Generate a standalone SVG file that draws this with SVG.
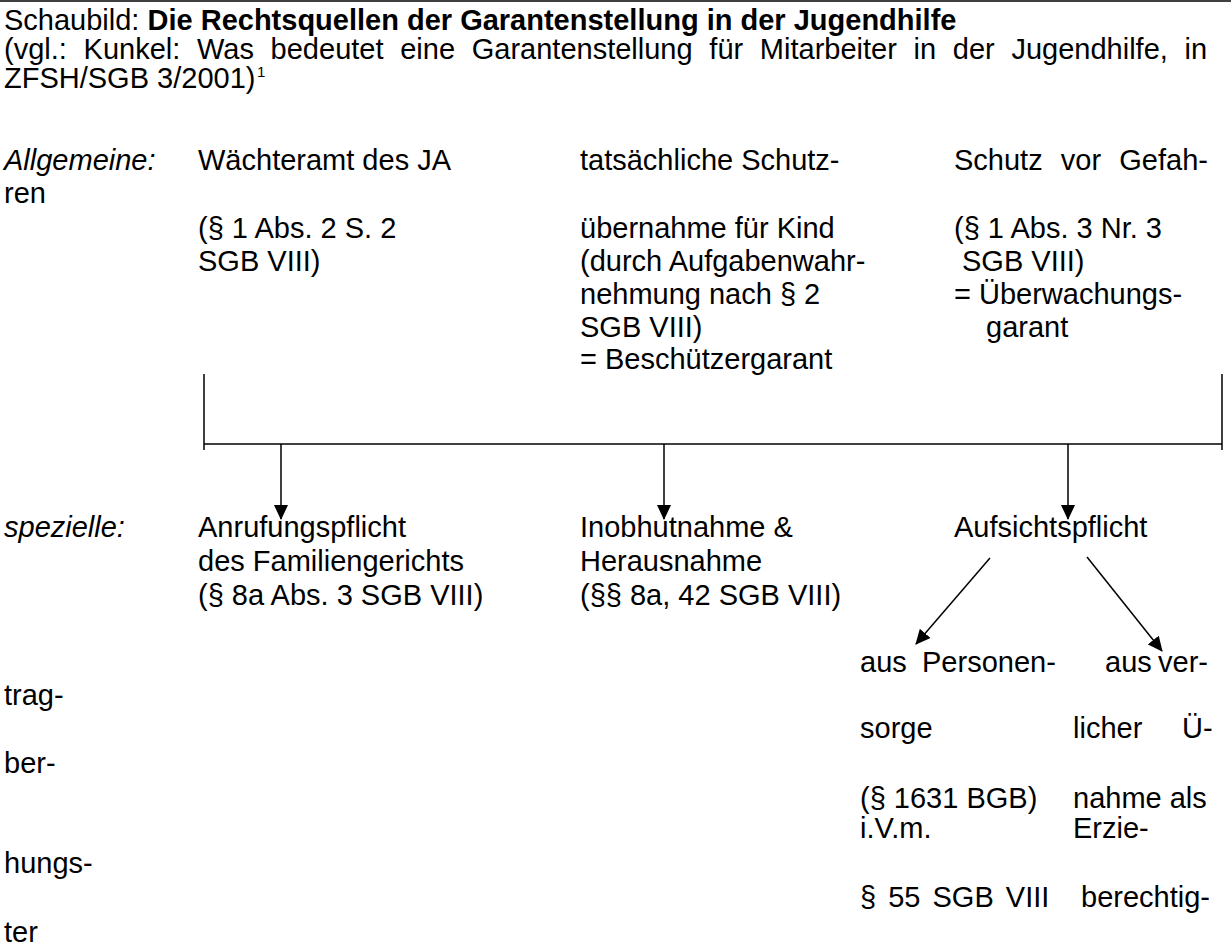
<svg xmlns="http://www.w3.org/2000/svg" width="1231" height="946" viewBox="0 0 1231 946">
<defs>
<style>
text { font-family: "Liberation Sans", Arial, Helvetica, sans-serif; font-size: 29px; fill: #000; }
.b { font-weight: bold; }
.i { font-style: italic; }
.sup { font-size: 15px; }
.ln { stroke: #000; stroke-width: 1.5; fill: none; }
.arr { stroke: #000; stroke-width: 1.5; fill: none; marker-end: url(#ah); }
</style>
<marker id="ah" viewBox="0 0 15 14" refX="14" refY="7" markerWidth="15" markerHeight="14" markerUnits="userSpaceOnUse" orient="auto">
<path d="M0,0 L15,7 L0,14 z" fill="#000"/>
</marker>
</defs>
<rect x="0" y="0" width="1231" height="946" fill="#fff"/>
<line class="ln" x1="0" y1="1" x2="1231" y2="1"/>

<g id="header">
<text x="4" y="30">Schaubild: <tspan class="b">Die Rechtsquellen der Garantenstellung in der Jugendhilfe</tspan></text>
<text x="4" y="59" word-spacing="8.65">(vgl.: Kunkel: Was bedeutet eine Garantenstellung für Mitarbeiter in der Jugendhilfe, in</text>
<text x="4" y="88">ZFSH/SGB 3/2001)</text>
<text class="sup" x="257" y="77">1</text>
</g>

<g id="label-allgemeine">
<text class="i" x="4" y="170">Allgemeine:</text>
<text x="4" y="203">ren</text>
</g>

<g id="node-waechteramt">
<text x="198" y="170">Wächteramt des JA</text>
<text x="198" y="238">(§ 1 Abs. 2 S. 2</text>
<text x="198" y="271">SGB VIII)</text>
</g>

<g id="node-schutzuebernahme">
<text x="580" y="170">tatsächliche Schutz-</text>
<text x="580" y="238">übernahme für Kind</text>
<text x="580" y="271">(durch Aufgabenwahr-</text>
<text x="580" y="304">nehmung nach § 2</text>
<text x="580" y="337">SGB VIII)</text>
<text x="580" y="369">= Beschützergarant</text>
</g>

<g id="node-schutz-gefahren">
<text x="954" y="170" word-spacing="10.1">Schutz vor Gefah-</text>
<text x="954" y="238">(§ 1 Abs. 3 Nr. 3</text>
<text x="962" y="271">SGB VIII)</text>
<text x="954" y="304">= Überwachungs-</text>
<text x="986" y="337">garant</text>
</g>

<g id="label-spezielle">
<text class="i" x="4" y="537">spezielle:</text>
</g>

<g id="node-anrufungspflicht">
<text x="198" y="537">Anrufungspflicht</text>
<text x="198" y="571">des Familiengerichts</text>
<text x="198" y="605">(§ 8a Abs. 3 SGB VIII)</text>
</g>

<g id="node-inobhutnahme">
<text x="580" y="537">Inobhutnahme &amp;</text>
<text x="580" y="571">Herausnahme</text>
<text x="580" y="605">(§§ 8a, 42 SGB VIII)</text>
</g>

<g id="node-aufsichtspflicht">
<text x="954" y="537">Aufsichtspflicht</text>
</g>

<g id="node-personensorge">
<text x="860" y="672">aus</text>
<text x="922" y="672">Personen-</text>
<text x="860" y="738">sorge</text>
<text x="860" y="808">(§ 1631 BGB)</text>
<text x="860" y="838">i.V.m.</text>
<text x="860" y="907" word-spacing="4">§ 55 SGB VIII</text>
</g>

<g id="node-vertrag">
<text x="1105" y="672">aus</text>
<text x="1158" y="672">ver-</text>
<text x="4" y="705">trag-</text>
<text x="1073" y="738">licher</text>
<text x="1182" y="738">Ü-</text>
<text x="4" y="773">ber-</text>
<text x="1073" y="808">nahme als</text>
<text x="1073" y="838">Erzie-</text>
<text x="4" y="873">hungs-</text>
<text x="1081" y="907">berechtig-</text>
<text x="4" y="942">ter</text>
</g>

<g id="connectors">
<line class="ln" x1="204" y1="374" x2="204" y2="450"/>
<line class="ln" x1="1222" y1="374" x2="1222" y2="450"/>
<line class="ln" x1="204" y1="444" x2="1222" y2="444"/>
<line class="arr" x1="281" y1="444" x2="281" y2="519"/>
<line class="arr" x1="664" y1="444" x2="664" y2="519"/>
<line class="arr" x1="1068" y1="444" x2="1068" y2="519"/>
<line class="arr" x1="990" y1="558" x2="916" y2="644"/>
<line class="arr" x1="1087" y1="557" x2="1162" y2="651"/>
</g>
</svg>
